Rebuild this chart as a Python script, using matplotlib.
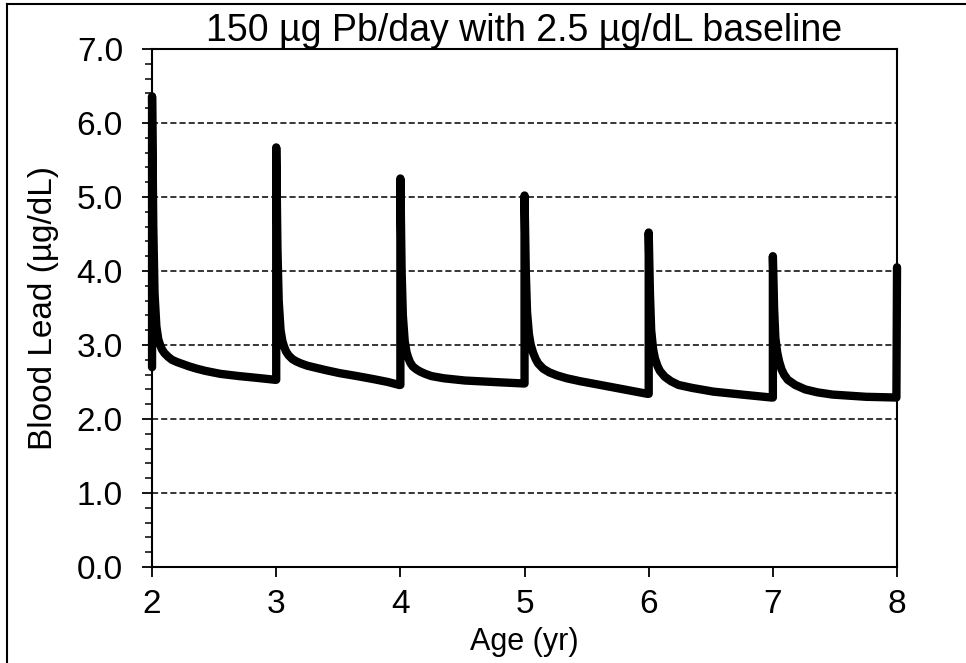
import matplotlib.pyplot as plt
from matplotlib.lines import Line2D
from matplotlib.ticker import MultipleLocator

# Blood lead curve (age in years, µg/dL)
age = [2.00, 2.00, 2.01, 2.02, 2.035, 2.05, 2.065, 2.08, 2.10, 2.13, 2.16, 2.20, 2.25, 2.30, 2.36, 2.43, 2.55, 2.70, 2.85, 2.99,
       3.00, 3.00, 3.01, 3.02, 3.035, 3.05, 3.065, 3.08, 3.10, 3.13, 3.16, 3.20, 3.25, 3.30, 3.40, 3.51, 3.65, 3.78, 3.90, 3.99,
       4.00, 4.00, 4.01, 4.02, 4.035, 4.05, 4.065, 4.08, 4.10, 4.13, 4.16, 4.20, 4.25, 4.35, 4.52, 4.75, 4.99,
       5.00, 5.00, 5.01, 5.02, 5.035, 5.05, 5.07, 5.09, 5.11, 5.15, 5.20, 5.26, 5.34, 5.45, 5.61, 5.80, 5.99,
       6.00, 6.00, 6.01, 6.02, 6.035, 6.05, 6.07, 6.09, 6.13, 6.18, 6.24, 6.35, 6.52, 6.75, 6.99,
       7.00, 7.00, 7.01, 7.02, 7.035, 7.05, 7.07, 7.09, 7.12, 7.18, 7.26, 7.36, 7.48, 7.75, 7.995, 8.00]
blood_lead = [2.70, 6.36, 4.60, 3.70, 3.25, 3.08, 3.00, 2.94, 2.89, 2.84, 2.80, 2.77, 2.74, 2.71, 2.68, 2.65, 2.61, 2.58, 2.555, 2.53,
              2.53, 5.67, 4.30, 3.60, 3.20, 3.05, 2.97, 2.91, 2.86, 2.81, 2.78, 2.75, 2.72, 2.70, 2.66, 2.62, 2.58, 2.54, 2.50, 2.46,
              2.46, 5.25, 4.00, 3.40, 3.05, 2.90, 2.82, 2.76, 2.71, 2.67, 2.64, 2.61, 2.58, 2.55, 2.52, 2.50, 2.48,
              2.48, 5.02, 4.00, 3.45, 3.15, 3.00, 2.89, 2.81, 2.75, 2.68, 2.63, 2.59, 2.55, 2.51, 2.46, 2.40, 2.34,
              2.34, 4.52, 3.70, 3.20, 2.95, 2.82, 2.72, 2.65, 2.57, 2.51, 2.46, 2.42, 2.37, 2.33, 2.29,
              2.29, 4.20, 3.50, 3.10, 2.90, 2.78, 2.67, 2.60, 2.53, 2.46, 2.40, 2.36, 2.33, 2.30, 2.29, 4.05]

x_ticks = [2, 3, 4, 5, 6, 7, 8]
y_ticks = [0, 1, 2, 3, 4, 5, 6, 7]

plt.rcParams['font.family'] = ['Liberation Sans', 'DejaVu Sans']

fig = plt.figure(figsize=(9.66, 6.63), dpi=100)
ax = fig.add_axes([0.1574, 0.1448, 0.7712, 0.7813])

ax.plot(age, blood_lead, color='black', linewidth=6.0,
        solid_joinstyle='round', solid_capstyle='round', clip_on=False, zorder=3)

ax.set_xlim(2, 8)
ax.set_ylim(0, 7)
ax.set_xticks(x_ticks)
ax.set_yticks(y_ticks)
ax.set_yticklabels([f'{v:.1f}' for v in y_ticks])
ax.yaxis.set_minor_locator(MultipleLocator(0.2))

# dashed horizontal grid lines
for v in y_ticks[1:-1]:
    ax.axhline(v, color='black', linewidth=1.1, linestyle=(0, (4, 2)), zorder=1)

ax.tick_params(axis='both', which='major', labelsize=24, length=7, width=1.3, color='black')
ax.tick_params(axis='y', which='major', pad=14)
ax.tick_params(axis='x', which='major', pad=9)
ax.tick_params(axis='y', which='minor', length=5, width=1.1)
for s in ax.spines.values():
    s.set_linewidth(1.5)

ax.set_title('150 µg Pb/day with 2.5 µg/dL baseline', fontsize=27, pad=-4)
ax.set_xlabel('Age (yr)', fontsize=22, labelpad=5)
ax.set_ylabel('Blood Lead (µg/dL)', fontsize=24, labelpad=13)

# outer frame (cut at the right and bottom edges)
fx = 7 / 966
fy = 1 - 4 / 663
fig.add_artist(Line2D([fx, fx], [0, fy], transform=fig.transFigure, color='black', linewidth=1.5))
fig.add_artist(Line2D([fx, 1], [fy, fy], transform=fig.transFigure, color='black', linewidth=1.5))

fig.savefig('out.png', dpi=100)
